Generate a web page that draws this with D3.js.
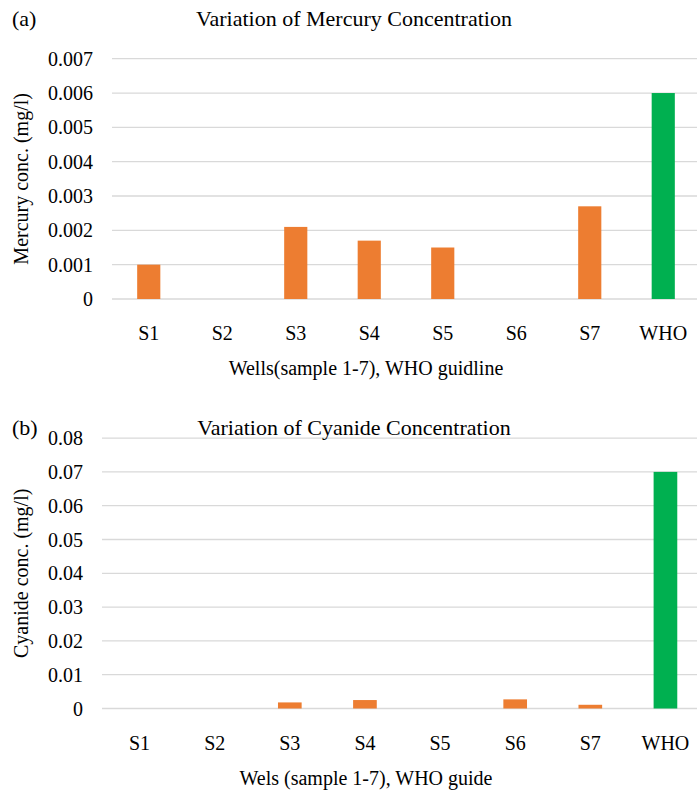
<!DOCTYPE html>
<html>
<head>
<meta charset="utf-8">
<script src="https://cdn.jsdelivr.net/npm/d3@7"></script>
<style>
  body { margin: 0; background: #fff; }
  svg text { font-family: "Times New Roman", "Liberation Serif", serif; fill: #000; }
</style>
</head>
<body>
<svg id="chart" width="697" height="790"></svg>
<script>
// categories shared by both panels
const wells = ['S1', 'S2', 'S3', 'S4', 'S5', 'S6', 'S7', 'WHO'];

// (a) mercury, mg/l
const mercuryValues = [0.001, 0, 0.0021, 0.0017, 0.0015, 0, 0.0027, 0.006];
const mercuryTicks = [0, 0.001, 0.002, 0.003, 0.004, 0.005, 0.006, 0.007];

// (b) cyanide, mg/l
const cyanideValues = [0, 0, 0.0018, 0.0025, 0, 0.0027, 0.0011, 0.07];
const cyanideTicks = [0, 0.01, 0.02, 0.03, 0.04, 0.05, 0.06, 0.07, 0.08];

const orange = '#ED7D31', green = '#00B050', gridColor = '#d9d9d9';

const svg = d3.select('#chart');

function drawPanel(opt) {
  const g = svg.append('g');

  const x = d3.scaleBand()
    .domain(wells)
    .range([opt.left, opt.right])
    .paddingInner(0.685)
    .paddingOuter(0.3425);

  const y = d3.scaleLinear()
    .domain([0, d3.max(opt.ticks)])
    .range([opt.bottom, opt.top]);

  // horizontal gridlines
  g.append('g')
    .selectAll('line')
    .data(opt.ticks)
    .enter()
    .append('line')
    .attr('x1', opt.left)
    .attr('x2', opt.right)
    .attr('y1', d => y(d))
    .attr('y2', d => y(d))
    .style('stroke', gridColor)
    .style('stroke-width', 1.3);

  // y tick labels
  g.append('g')
    .selectAll('text')
    .data(opt.ticks)
    .enter()
    .append('text')
    .attr('x', opt.left - 19)
    .attr('y', d => y(d))
    .attr('dy', '0.35em')
    .attr('text-anchor', 'end')
    .style('font-size', '20px')
    .text(d => d === 0 ? '0' : d3.format(opt.fmt)(d));

  // bars
  g.append('g')
    .selectAll('rect')
    .data(opt.values)
    .enter()
    .append('rect')
    .attr('x', (d, i) => x(wells[i]))
    .attr('width', x.bandwidth())
    .attr('y', d => y(d))
    .attr('height', d => opt.bottom - y(d))
    .style('fill', (d, i) => wells[i] === 'WHO' ? green : orange);

  // x tick labels
  g.append('g')
    .selectAll('text')
    .data(wells)
    .enter()
    .append('text')
    .attr('x', d => x(d) + x.bandwidth() / 2)
    .attr('y', opt.bottom + 41)
    .attr('text-anchor', 'middle')
    .style('font-size', '20px')
    .text(d => d);

  // titles
  g.append('text')
    .attr('x', 12)
    .attr('y', opt.titleY)
    .style('font-size', '22px')
    .text(opt.panel);

  g.append('text')
    .attr('x', 354)
    .attr('y', opt.titleY)
    .attr('text-anchor', 'middle')
    .style('font-size', '22px')
    .text(opt.title);

  g.append('text')
    .attr('transform', 'translate(28,' + ((opt.top + opt.bottom) / 2) + ') rotate(-90)')
    .attr('text-anchor', 'middle')
    .style('font-size', '20px')
    .text(opt.yLabel);

  g.append('text')
    .attr('x', 366)
    .attr('y', opt.bottom + 76)
    .attr('text-anchor', 'middle')
    .style('font-size', '20px')
    .text(opt.xLabel);
}

drawPanel({
  values: mercuryValues,
  ticks: mercuryTicks,
  fmt: '.3f',
  left: 112, right: 700, top: 58.7, bottom: 299,
  titleY: 26,
  panel: '(a)',
  title: 'Variation of Mercury Concentration',
  yLabel: 'Mercury conc. (mg/l)',
  xLabel: 'Wells(sample 1-7), WHO guidline'
});

drawPanel({
  values: cyanideValues,
  ticks: cyanideTicks,
  fmt: '.2f',
  left: 102, right: 703, top: 438.1, bottom: 708.5,
  titleY: 435,
  panel: '(b)',
  title: 'Variation of Cyanide Concentration',
  yLabel: 'Cyanide conc. (mg/l)',
  xLabel: 'Wels (sample 1-7), WHO guide'
});
</script>
</body>
</html>
